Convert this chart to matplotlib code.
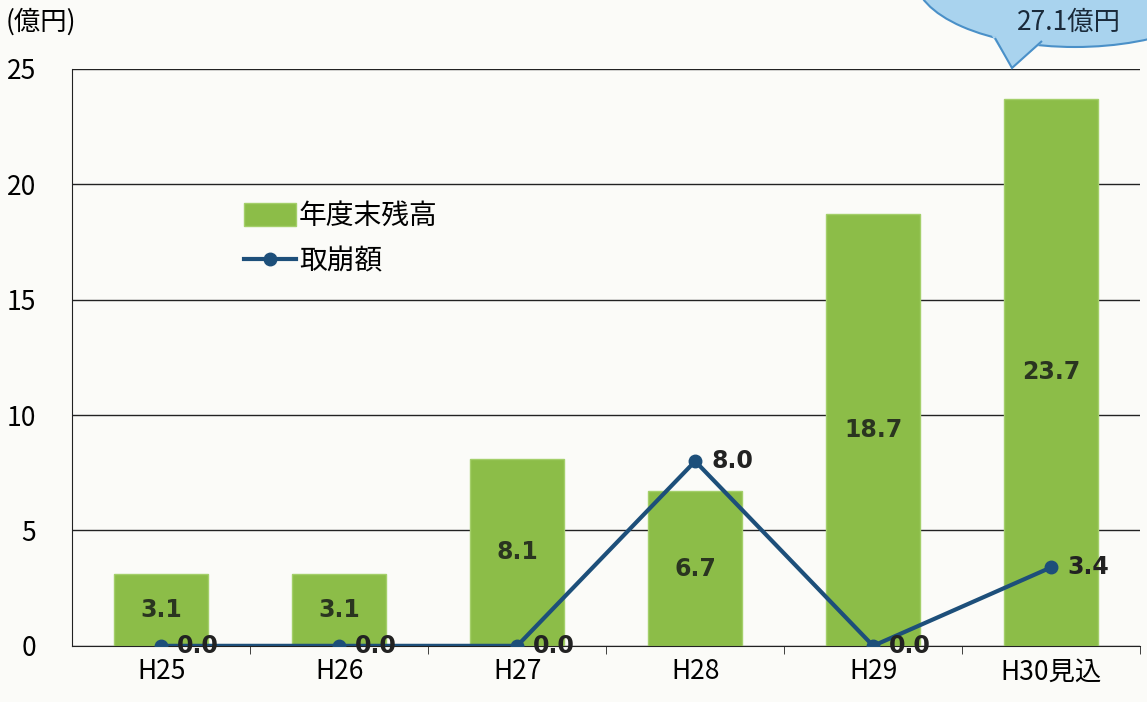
import matplotlib
matplotlib.use("Agg")
import matplotlib.pyplot as plt
from matplotlib.patches import Ellipse, Polygon

plt.rcParams['font.family'] = ['Noto Sans CJK JP', 'DejaVu Sans']

years = ['H25', 'H26', 'H27', 'H28', 'H29', 'H30見込']
balance = [3.1, 3.1, 8.1, 6.7, 18.7, 23.7]
drawdown = [0.0, 0.0, 0.0, 8.0, 0.0, 3.4]

bar_color = '#8cbd48'
line_color = '#1d4f7a'

fig = plt.figure(figsize=(11.47, 7.02), dpi=100)
fig.patch.set_facecolor('#fbfbf8')
ax = fig.add_axes([0.063, 0.080, 0.931, 0.822])
ax.set_facecolor('#fbfbf8')

x = list(range(len(years)))
bars = ax.bar(x, balance, width=0.53, color=bar_color, edgecolor='#a4cf6a',
              linewidth=1, zorder=2, label='年度末残高')
line, = ax.plot(x, drawdown, color=line_color, linewidth=3, marker='o', markersize=9,
                zorder=4, label='取崩額')

for xi, v in zip(x, balance):
    ax.text(xi, v / 2, f'{v:.1f}', ha='center', va='center', fontsize=17,
            fontweight='bold', family='DejaVu Sans', color='#2a3520', zorder=5)
for xi, v in zip(x, drawdown):
    ax.text(xi + 0.09, v, f'{v:.1f}', ha='left', va='center', fontsize=17,
            fontweight='bold', family='DejaVu Sans', color='#222222', zorder=5)

ax.set_xlim(-0.5, 5.5)
ax.set_ylim(0, 25)
ax.set_yticks([0, 5, 10, 15, 20, 25])
ax.yaxis.grid(True, color='#222222', linewidth=1)
ax.set_axisbelow(True)
ax.set_xticks(x)
ax.set_xticklabels(years)
ax.set_xticks([i + 0.5 for i in range(len(years))], minor=True)
ax.tick_params(axis='x', which='major', length=0, labelsize=19, pad=9)
ax.tick_params(axis='x', which='minor', length=6, direction='out', color='#222222')
ax.tick_params(axis='y', length=0, labelsize=19, pad=26)
for side in ['top', 'right']:
    ax.spines[side].set_visible(False)
ax.spines['left'].set_color('#222222')
ax.spines['bottom'].set_color('#222222')

fig.text(0.005, 0.968, '(億円)', fontsize=19, ha='left', va='center')

ax.legend([bars, line], ['年度末残高', '取崩額'], loc='upper left',
          bbox_to_anchor=(0.137, 0.814), frameon=False, fontsize=20,
          handlelength=1.9, handleheight=0.9, handletextpad=0.1, labelspacing=0.55)

# speech bubble at the top right, cut off by the figure edge
bubble = Ellipse((10.75, 7.25), 3.2, 1.4, transform=fig.dpi_scale_trans,
                 facecolor='#a9d3ee', edgecolor='#4a90c8', linewidth=1.5, zorder=10)
fig.add_artist(bubble)
tail = Polygon([[9.92, 6.66], [10.45, 6.62], [10.12, 6.34]], closed=True,
               transform=fig.dpi_scale_trans, facecolor='#a9d3ee', edgecolor='none', zorder=11)
fig.add_artist(tail)
tail_edge = Polygon([[9.95, 6.64], [10.12, 6.34], [10.42, 6.61]], closed=False, fill=False,
                    transform=fig.dpi_scale_trans, edgecolor='#4a90c8', linewidth=1.5, zorder=11)
fig.add_artist(tail_edge)
fig.text(0.932, 0.968, '27.1億円', fontsize=19, ha='center', va='center',
         color='#1a2a3a', zorder=12)

fig.savefig('out.png', dpi=100, facecolor=fig.get_facecolor())
